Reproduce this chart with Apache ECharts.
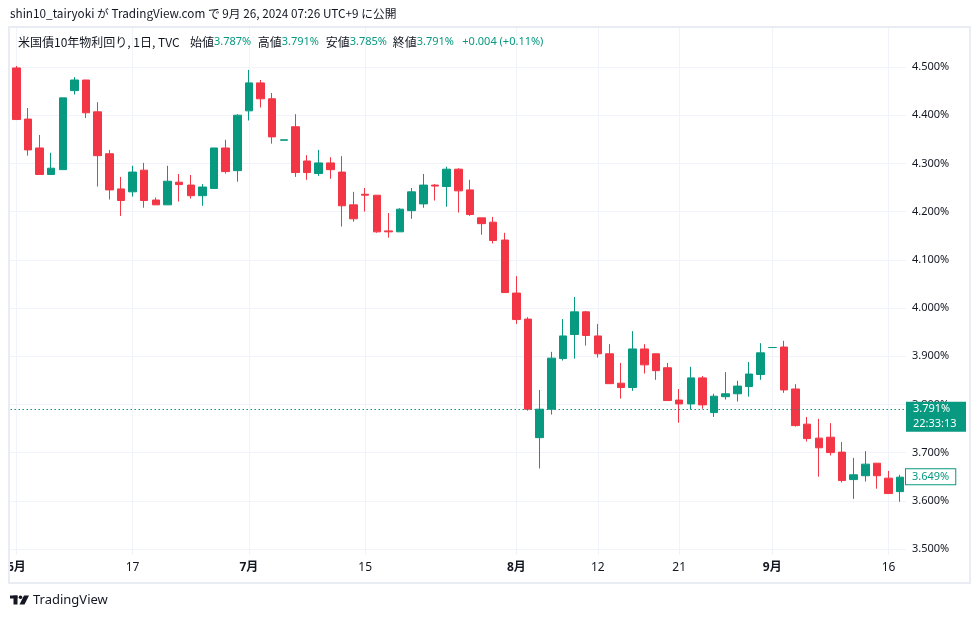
<!DOCTYPE html>
<html>
<head>
<meta charset="utf-8">
<script src="https://cdn.jsdelivr.net/npm/echarts@6/dist/echarts.min.js"></script>
<style>
  html, body { margin: 0; padding: 0; background: #fff; }
  #chart { width: 980px; height: 618px; }
</style>
</head>
<body>
<div id="chart"></div>
<script>
// daily bars, US10Y (TVC), Jun 3 - Sep 17 2024
const dates = [
  '06-03','06-04','06-05','06-06','06-07','06-10','06-11','06-12','06-13','06-14',
  '06-17','06-18','06-19','06-20','06-21','06-24','06-25','06-26','06-27','06-28',
  '07-01','07-02','07-03','07-04','07-05','07-08','07-09','07-10','07-11','07-12',
  '07-15','07-16','07-17','07-18','07-19','07-22','07-23','07-24','07-25','07-26',
  '07-29','07-30','07-31',
  '08-01','08-02','08-05','08-06','08-07','08-08','08-09','08-12','08-13','08-14',
  '08-15','08-16','08-19','08-20','08-21','08-22','08-23','08-26','08-27','08-28',
  '08-29','08-30',
  '09-02','09-03','09-04','09-05','09-06','09-09','09-10','09-11','09-12','09-13',
  '09-16','09-17'
];
const opens = [
  4.498, 4.392, 4.332, 4.277, 4.287, 4.451, 4.473, 4.407, 4.320, 4.247,
  4.241, 4.286, 4.224, 4.214, 4.261, 4.255, 4.233, 4.248, 4.332, 4.285,
  4.409, 4.467, 4.434, 4.348, 4.376, 4.305, 4.279, 4.301, 4.282, 4.214,
  4.236, 4.234, 4.160, 4.158, 4.202, 4.216, 4.255, 4.252, 4.288, 4.245,
  4.187, 4.178, 4.141,
  4.031, 3.977, 3.731, 3.790, 3.895, 3.945, 3.992, 3.942, 3.905, 3.844,
  3.835, 3.915, 3.905, 3.876, 3.809, 3.801, 3.855, 3.783, 3.816, 3.822,
  3.837, 3.862,
  3.918, 3.919, 3.832, 3.759, 3.730, 3.732, 3.701, 3.644, 3.652, 3.678,
  3.647, 3.619
];
const closes = [
  4.391, 4.328, 4.277, 4.290, 4.436, 4.473, 4.405, 4.316, 4.245, 4.223,
  4.282, 4.223, 4.214, 4.263, 4.256, 4.233, 4.251, 4.332, 4.283, 4.400,
  4.467, 4.434, 4.355, 4.349, 4.281, 4.281, 4.301, 4.287, 4.212, 4.185,
  4.234, 4.158, 4.158, 4.205, 4.241, 4.255, 4.253, 4.288, 4.243, 4.194,
  4.175, 4.140, 4.032,
  3.976, 3.790, 3.790, 3.896, 3.942, 3.992, 3.943, 3.905, 3.843, 3.835,
  3.915, 3.882, 3.870, 3.808, 3.801, 3.855, 3.799, 3.817, 3.822, 3.838,
  3.863, 3.907,
  3.918, 3.830, 3.756, 3.729, 3.710, 3.700, 3.642, 3.654, 3.676, 3.652,
  3.615, 3.649
];
const lows = [
  4.391, 4.316, 4.277, 4.277, 4.287, 4.443, 4.394, 4.252, 4.225, 4.191,
  4.231, 4.208, 4.214, 4.214, 4.221, 4.227, 4.212, 4.248, 4.279, 4.262,
  4.389, 4.416, 4.341, 4.348, 4.272, 4.266, 4.274, 4.268, 4.169, 4.179,
  4.200, 4.156, 4.146, 4.158, 4.185, 4.208, 4.223, 4.210, 4.198, 4.191,
  4.152, 4.134, 4.032,
  3.967, 3.787, 3.667, 3.779, 3.891, 3.895, 3.922, 3.897, 3.843, 3.812,
  3.828, 3.864, 3.851, 3.808, 3.762, 3.789, 3.791, 3.774, 3.810, 3.806,
  3.816, 3.851,
  3.918, 3.824, 3.754, 3.723, 3.650, 3.694, 3.638, 3.604, 3.640, 3.625,
  3.615, 3.598
];
const highs = [
  4.502, 4.415, 4.359, 4.322, 4.436, 4.479, 4.473, 4.427, 4.328, 4.272,
  4.295, 4.301, 4.229, 4.295, 4.278, 4.276, 4.257, 4.332, 4.349, 4.402,
  4.494, 4.473, 4.446, 4.349, 4.402, 4.317, 4.328, 4.313, 4.315, 4.241,
  4.249, 4.234, 4.197, 4.207, 4.249, 4.278, 4.257, 4.293, 4.290, 4.266,
  4.187, 4.189, 4.156,
  4.066, 3.981, 3.830, 3.909, 3.977, 4.023, 3.994, 3.967, 3.925, 3.886,
  3.952, 3.925, 3.905, 3.886, 3.832, 3.878, 3.859, 3.822, 3.867, 3.849,
  3.888, 3.927,
  3.918, 3.932, 3.842, 3.774, 3.770, 3.761, 3.722, 3.689, 3.703, 3.678,
  3.662, 3.654
];

const tickDates = ['06-03', '06-17', '07-01', '07-15', '08-01', '08-12', '08-21', '09-02', '09-16'];
const tickLabels = ['6月', '17', '7月', '15', '8月', '12', '21', '9月', '16'];
const yTicks = [3.5, 3.6, 3.7, 3.8, 3.9, 4.0, 4.1, 4.2, 4.3, 4.4, 4.5];

// header legend: O / H / L / C of the live bar
const legendNames = ['始値', '高値', '安値', '終値'];
const legendValues = ['3.787%', '3.791%', '3.785%', '3.791%'];
const legendChange = '+0.004 (+0.11%)';

const currentPrice = 3.791;
const countdown = '22:33:13';
const lastClose = closes[closes.length - 1];

const UP = '#089981';
const DOWN = '#f23645';
const GRID = '#f0f3fa';
const TEXT = '#131722';
const FONT = '"Noto Sans", "Noto Sans CJK JP", sans-serif';
const JFONT = '"Noto Sans CJK JP", "Noto Sans", sans-serif';

const chart = echarts.init(document.getElementById('chart'), null, { renderer: 'canvas' });

const candles = dates.map((d, i) => [opens[i], closes[i], lows[i], highs[i]]);

const legendX = [190, 257.7, 325.7, 392.7];
const legendItems = [];
legendNames.forEach((n, i) => {
  legendItems.push({
    type: 'text', z: 101, x: legendX[i], y: 42,
    style: { text: n, fill: TEXT, font: '12px ' + JFONT, verticalAlign: 'middle' }
  });
  legendItems.push({
    type: 'text', z: 101, x: legendX[i] + 24, y: 42,
    style: { text: legendValues[i], fill: UP, font: '11px ' + FONT, verticalAlign: 'middle' }
  });
});

const option = {
  animation: false,
  backgroundColor: '#fff',
  textStyle: { fontFamily: FONT },
  grid: { left: 10.5, right: 74, top: 28, bottom: 63 },
  xAxis: {
    type: 'category',
    data: dates,
    boundaryGap: true,
    axisLine: { show: false },
    axisTick: { show: false },
    splitLine: { show: false },
    axisLabel: {
      interval: (i, v) => tickDates.includes(v),
      margin: 7,
      fontSize: 12,
      color: TEXT,
      formatter: v => {
        const t = tickLabels[tickDates.indexOf(v)];
        return t.endsWith('月') ? '{b|' + t + '}' : t;
      },
      rich: { b: { fontWeight: 'bold', fontSize: 12, color: TEXT } }
    }
  },
  yAxis: {
    type: 'value',
    position: 'right',
    min: 3.48755,
    max: 4.5809,
    axisLine: { show: false },
    axisTick: { show: false, customValues: yTicks },
    splitLine: { show: true, lineStyle: { color: GRID, width: 1 } },
    axisLabel: {
      customValues: yTicks,
      margin: 6,
      fontSize: 11,
      color: TEXT,
      formatter: v => v.toFixed(3) + '%'
    }
  },
  series: [
    {
      type: 'candlestick',
      data: candles,
      barWidth: 8,
      clip: false,
      itemStyle: {
        color: UP, color0: DOWN,
        borderColor: UP, borderColor0: DOWN,
        borderWidth: 1
      },
      markLine: {
        silent: true,
        z: 1,
        symbol: ['none', 'none'],
        label: { show: false },
        lineStyle: { color: GRID, width: 1, type: 'solid' },
        data: tickDates.map(d => ({ xAxis: d }))
      }
    },
    {
      type: 'line',
      data: [],
      silent: true,
      clip: false,
      markLine: {
        silent: true,
        symbol: ['none', 'none'],
        data: [
          {
            yAxis: currentPrice,
            lineStyle: { color: UP, width: 1, type: [1.5, 2.5] },
            label: {
              show: true, position: 'end', distance: 0,
              formatter: currentPrice.toFixed(3) + '%',
              color: '#fff', backgroundColor: UP,
              fontSize: 11, lineHeight: 13, width: 46,
              padding: [2, 7, 0, 7], fontFamily: FONT
            }
          },
          {
            // sits just under the price tag, same box width
            yAxis: 3.7593,
            lineStyle: { color: 'rgba(0,0,0,0)', width: 0 },
            label: {
              show: true, position: 'end', distance: 0,
              formatter: countdown,
              color: '#fff', backgroundColor: UP,
              fontSize: 11, lineHeight: 13, width: 46,
              padding: [1, 7, 2, 7], fontFamily: FONT
            }
          },
          {
            yAxis: lastClose,
            lineStyle: { color: 'rgba(0,0,0,0)', width: 0 },
            label: {
              show: true, position: 'end', distance: 0,
              formatter: lastClose.toFixed(3) + '%',
              color: UP, backgroundColor: '#fff',
              borderColor: UP, borderWidth: 1,
              fontSize: 11, lineHeight: 13,
              padding: [1, 6, 1, 6], fontFamily: FONT
            }
          }
        ]
      }
    }
  ],
  graphic: [
    // hides the part of the first month label that falls outside the pane
    { type: 'rect', z: 100, shape: { x: 0, y: 556, width: 9, height: 30 }, style: { fill: '#fff' } },
    { type: 'rect', z: 101, shape: { x: 9, y: 27, width: 961, height: 556 },
      style: { fill: null, stroke: '#e9ecf2', lineWidth: 2 } },
    {
      type: 'text', z: 101, x: 10, y: 14,
      style: {
        text: 'shin10_tairyoki が TradingView.com で 9月 26, 2024 07:26 UTC+9 に公開',
        fill: TEXT, font: '11.75px ' + JFONT,
        verticalAlign: 'middle'
      }
    },
    {
      type: 'text', z: 101, x: 18, y: 42,
      style: { text: '米国債10年物利回り, 1日, TVC', fill: TEXT, font: '12px ' + JFONT, verticalAlign: 'middle' }
    },
    ...legendItems,
    {
      type: 'text', z: 101, x: 462.3, y: 42,
      style: { text: legendChange, fill: UP, font: '11px ' + FONT, verticalAlign: 'middle' }
    },
    // TradingView logo
    { type: 'rect', z: 101, shape: { x: 10, y: 595.5, width: 7.5, height: 3 }, style: { fill: TEXT } },
    { type: 'rect', z: 101, shape: { x: 13.5, y: 595.5, width: 4, height: 9 }, style: { fill: TEXT } },
    { type: 'circle', z: 101, shape: { cx: 20.5, cy: 597.2, r: 1.8 }, style: { fill: TEXT } },
    { type: 'polygon', z: 101, shape: { points: [[24, 595.5], [29, 595.5], [24.5, 604.5], [19.5, 604.5]] }, style: { fill: TEXT } },
    {
      type: 'text', z: 101, x: 33, y: 600.5,
      style: { text: 'TradingView', fill: TEXT, font: '13px ' + FONT, verticalAlign: 'middle' }
    }
  ]
};

chart.setOption(option);
</script>
</body>
</html>
